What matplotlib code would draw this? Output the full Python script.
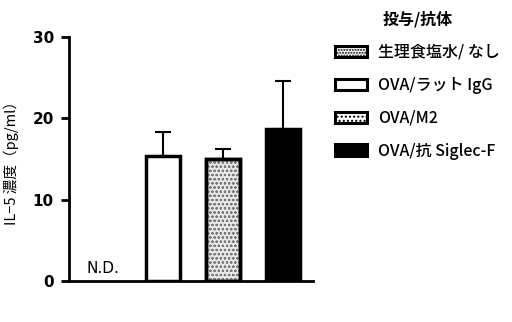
import numpy as np
import matplotlib
matplotlib.use("Agg")
import matplotlib.pyplot as plt
from matplotlib.patches import Patch

plt.rcParams['font.family'] = ['Noto Sans CJK JP', 'DejaVu Sans']
plt.rcParams['hatch.linewidth'] = 1.0

categories = ["生理食塩水/ なし", "OVA/ラット IgG", "OVA/M2", "OVA/抗 Siglec-F"]
values = [np.nan, 15.4, 15.0, 18.7]
errors = [np.nan, 2.9, 1.2, 5.9]
yticks = [0, 10, 20, 30]
legend_title = "投与/抗体"
ylabel = "IL−5 濃度（pg/ml）"

faces = ["white", "white", "#e8e8e8", "black"]
hatches = ["......", None, "....", None]
hatch_colors = ["#555555", "black", "#888888", "black"]

fig = plt.figure(figsize=(5.12, 3.22), dpi=100)
ax = fig.add_axes([0.135, 0.127, 0.476, 0.758])

x = np.arange(len(categories))
for i in range(len(categories)):
    if np.isnan(values[i]):
        ax.text(x[i], 0.6, "N.D.", ha='center', va='bottom', fontsize=11, family='DejaVu Sans')
        continue
    ax.bar(x[i], values[i], width=0.58, color=faces[i], edgecolor='black', linewidth=2.5,
           hatch=hatches[i], zorder=2)
    if hatches[i]:
        ax.bar(x[i], values[i], width=0.58, color='none', edgecolor=hatch_colors[i], linewidth=0,
               hatch=hatches[i], zorder=2)
        ax.bar(x[i], values[i], width=0.58, color='none', edgecolor='black', linewidth=2.5, zorder=3)
    ax.errorbar(x[i], values[i], yerr=[[0], [errors[i]]], fmt='none', ecolor='black',
                elinewidth=1.5, capsize=6, capthick=1.5, zorder=1)

ax.set_xlim(-0.57, 3.5)
ax.set_ylim(0, 30)
ax.set_yticks(yticks)
ax.set_yticklabels([str(t) for t in yticks], fontweight='bold', fontsize=11, family='DejaVu Sans')
ax.set_xticks([])
for s in ['top', 'right']:
    ax.spines[s].set_visible(False)
ax.spines['left'].set_linewidth(2)
ax.spines['bottom'].set_linewidth(2)
ax.tick_params(axis='y', width=2, length=6, direction='out', pad=5)
ax.set_ylabel(ylabel, fontsize=10.5, labelpad=10)

handles = []
for i in range(len(categories)):
    h = Patch(facecolor=faces[i] if i != 2 else "white", edgecolor='black', linewidth=2.2,
              hatch=hatches[i])
    handles.append(h)
leg = fig.legend(handles, categories, loc='upper left', bbox_to_anchor=(0.655, 0.965),
                 frameon=False, fontsize=11.5, title=legend_title,
                 title_fontproperties={'weight': 'bold', 'size': 11.5},
                 handlelength=2.0, handleheight=0.7, labelspacing=1.0, handletextpad=0.7,
                 borderpad=0, borderaxespad=0)
for t in leg.get_texts():
    t.set_fontweight('medium')

fig.savefig("out.png", dpi=100)
